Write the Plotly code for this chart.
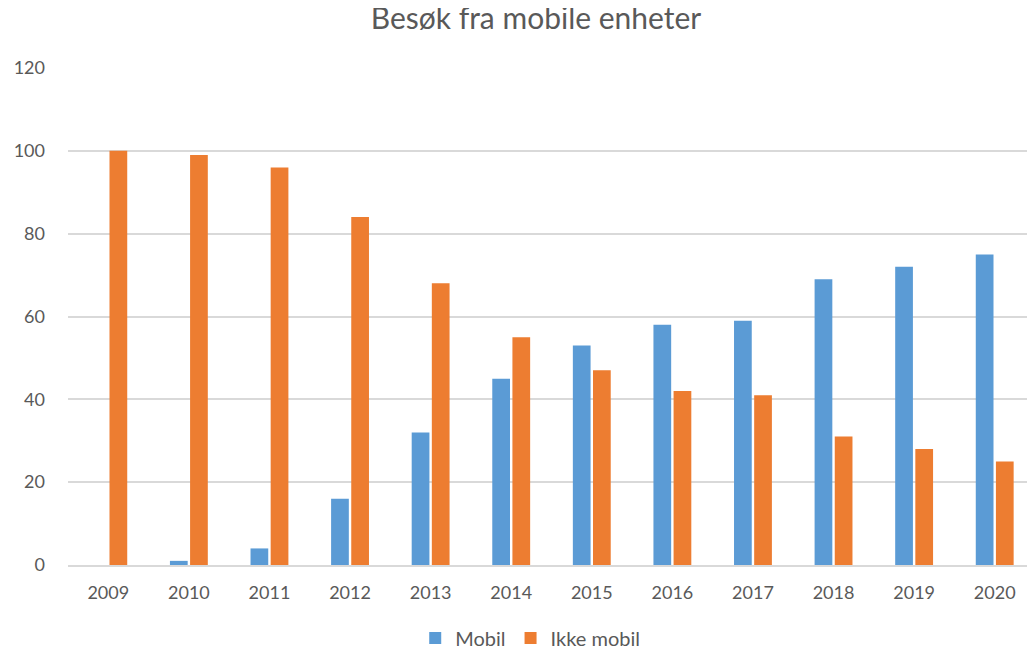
import plotly.graph_objects as go

years = ["2009", "2010", "2011", "2012", "2013", "2014", "2015", "2016", "2017", "2018", "2019", "2020"]
mobil = [0, 1, 4, 16, 32, 45, 53, 58, 59, 69, 72, 75]
ikke_mobil = [100, 99, 96, 84, 68, 55, 47, 42, 41, 31, 28, 25]

font_family = "Lato, 'Open Sans', sans-serif"
gray = "#595959"

# The page shows the figure with the browser's 8px body margin, so the
# figure is sized 8px smaller and its margins are offset accordingly.
W, H = 1027, 641

fig = go.Figure()
fig.add_trace(go.Bar(x=years, y=mobil, name="Mobil", marker_color="#5B9BD5", marker_line_width=0))
fig.add_trace(go.Bar(x=years, y=ikke_mobil, name="Ikke mobil", marker_color="#ED7D31", marker_line_width=0))

fig.update_layout(
    width=W, height=H,
    paper_bgcolor="white", plot_bgcolor="white",
    margin=dict(l=60, r=0, t=60, b=84, autoexpand=False),
    barmode="group", bargap=0.5, bargroupgap=0.12,
    title=dict(text="Besøk fra mobile enheter", x=528 / W, xanchor="center",
               y=1, yanchor="top", pad=dict(t=0, b=0),
               font=dict(family=font_family, size=30, color=gray)),
    font=dict(family=font_family, color=gray, size=16),
    legend=dict(orientation="h", x=0.478, xanchor="center", y=-0.147, yanchor="middle",
                font=dict(size=20, color=gray), itemwidth=30, traceorder="normal"),
    showlegend=True,
)
fig.update_xaxes(type="category", showgrid=False, showline=True, linecolor="#d9d9d9",
                 linewidth=1.5, ticks="", tickfont=dict(size=18, color=gray), ticklabelstandoff=11,
                 automargin=False)
fig.update_yaxes(range=[0, 120], dtick=20, showgrid=True, gridcolor="#d9d9d9", gridwidth=1.5,
                 zeroline=False, showline=False, ticks="", tickfont=dict(size=18, color=gray),
                 ticklabelstandoff=22, automargin=False)

fig.write_html("out.html")
